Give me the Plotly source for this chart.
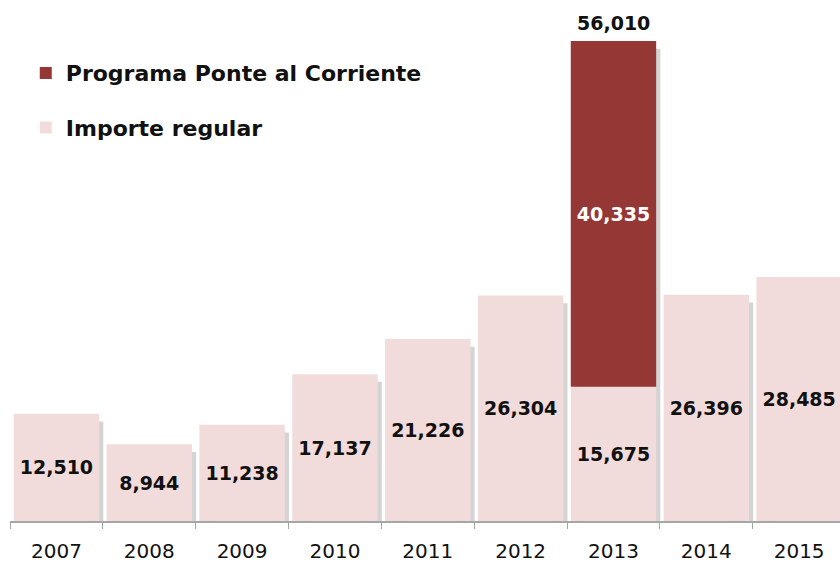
import plotly.graph_objects as go

years = ["2007", "2008", "2009", "2010", "2011", "2012", "2013", "2014", "2015"]
importe_regular = [12510, 8944, 11238, 17137, 21226, 26304, 15675, 26396, 28485]
ponte_corriente = [None, None, None, None, None, None, 40335, None, None]
totales = [None, None, None, None, None, None, 56010, None, None]

PINK = "#F2DCDB"
DARK = "#953735"
W = 0.92

def fmt(v):
    return "" if v is None else f"{v:,}"

total_alt = [r + (p or 0) for r, p in zip(importe_regular, ponte_corriente)]

fig = go.Figure()

# sombra detras de cada barra
fig.add_trace(go.Bar(
    x=years, y=[t - 900 for t in total_alt], width=W, offset=-W / 2 + 0.045,
    marker=dict(color="rgba(0,0,0,0.17)", line=dict(width=0)),
    showlegend=False, hoverinfo="skip",
))

fig.add_trace(go.Bar(
    x=years, y=importe_regular, width=W, name="Importe regular",
    marker=dict(color=PINK, line=dict(width=0)),
    text=[fmt(v) for v in importe_regular], textposition="inside",
    insidetextanchor="middle", textangle=0,
    insidetextfont=dict(family="DejaVu Sans", size=19, color="#111", weight="bold"),
    legendrank=2, legendgroup="b",
))

fig.add_trace(go.Bar(
    x=years, y=ponte_corriente, base=importe_regular, width=W,
    name="Programa Ponte al Corriente",
    marker=dict(color=DARK, line=dict(width=0)),
    text=[fmt(v) for v in ponte_corriente], textposition="inside",
    insidetextanchor="middle", textangle=0,
    insidetextfont=dict(family="DejaVu Sans", size=19, color="white", weight="bold"),
    legendrank=1, legendgroup="a",
))

# total encima de la barra apilada (x como indice de categoria)
for i, tot in enumerate(totales):
    if tot is not None:
        fig.add_annotation(
            x=i, y=tot, text=fmt(tot), showarrow=False,
            yanchor="bottom", yshift=5,
            font=dict(family="DejaVu Sans", size=19, color="#111", weight="bold"),
        )

fig.update_layout(
    width=840, height=562,
    margin=dict(l=10, r=0, t=0, b=41),
    barmode="overlay",
    plot_bgcolor="white", paper_bgcolor="white",
    font=dict(family="DejaVu Sans", color="#111"),
    legend=dict(
        x=0.019, y=0.90, xanchor="left", yanchor="top",
        font=dict(size=22, weight="bold", color="#111"),
        tracegroupgap=23, itemwidth=30,
        bgcolor="rgba(0,0,0,0)",
    ),
    xaxis=dict(
        type="category", range=[-0.5, 8.44],
        tickson="boundaries", ticks="outside", ticklen=6,
        tickcolor="#A6A6A6", showline=True, linecolor="#A6A6A6", linewidth=1.5,
        tickfont=dict(size=20, color="#111"), showgrid=False,
        ticklabelstandoff=11, automargin=False,
    ),
    yaxis=dict(visible=False, range=[0, 60793], showgrid=False),
)

fig.write_html("out.html", config={"displayModeBar": False},
               post_script="document.body.style.margin='0';")
